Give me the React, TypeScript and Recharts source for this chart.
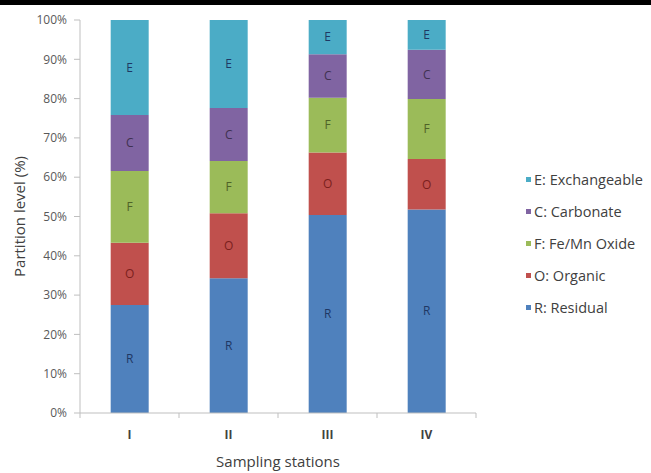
import {Bar, BarChart, LabelList, Legend, XAxis, YAxis} from 'recharts';

const stations = ['I', 'II', 'III', 'IV'];
const residual = [27.5, 34.3, 50.4, 51.8];
const organic = [15.8, 16.5, 15.9, 12.8];
const feMnOxide = [18.3, 13.3, 13.9, 15.3];
const carbonate = [14.2, 13.5, 11.1, 12.5];
const exchangeable = [24.2, 22.4, 8.7, 7.6];
const yTicks = [0, 10, 20, 30, 40, 50, 60, 70, 80, 90, 100];

const series = [
    {key: 'R', name: 'R: Residual', color: '#4f81bd', text: '#1f3864'},
    {key: 'O', name: 'O: Organic', color: '#c0504d', text: '#7b1f1d'},
    {key: 'F', name: 'F: Fe/Mn Oxide', color: '#9bbb59', text: '#4f6228'},
    {key: 'C', name: 'C: Carbonate', color: '#8064a2', text: '#3f3151'},
    {key: 'E', name: 'E: Exchangeable', color: '#4bacc6', text: '#1f3864'},
];

const data = stations.map((station, i) => ({
    station,
    R: residual[i],
    O: organic[i],
    F: feMnOxide[i],
    C: carbonate[i],
    E: exchangeable[i],
}));

const TICK_GAP = 17; // tickSize (6) + tickMargin (11)

// station label, plus Excel-style tick marks on the category edges
const StationTick = (props: any) => {
    const {x, y, payload} = props;
    const half = payload.offset || 0;
    const axisY = y - TICK_GAP;
    return (
        <g>
            <line x1={x + half} x2={x + half} y1={axisY} y2={axisY + 5} stroke="#bfbfbf"/>
            {payload.index === 0 && <line x1={x - half} x2={x - half} y1={axisY} y2={axisY + 5} stroke="#bfbfbf"/>}
            <text x={x} y={y} dy="0.71em" textAnchor="middle" fontSize={12} fontWeight="bold" fill="#404040">
                {payload.value}
            </text>
        </g>
    );
};

// legend drawn top to bottom in reverse stacking order, like Excel
const LegendBox = () => (
    <div>
        {[...series].reverse().map(s => (
            <div key={s.key} style={{display: 'flex', alignItems: 'center', height: 32, fontSize: 14.5, color: '#404040'}}>
                <span style={{width: 5, height: 5, background: s.color, marginRight: 3, display: 'inline-block'}}/>
                {s.name}
            </div>
        ))}
    </div>
);

const App = () => {
    return (
        <div style={{position: 'absolute', left: 0, top: 0, width: 651, height: 473, background: '#fff', fontFamily: '"Open Sans", sans-serif'}}>
            <div style={{position: 'absolute', left: 0, top: 0, width: 651, height: 5, background: '#000'}}/>
            <BarChart width={651} height={473} data={data} margin={{top: 20, right: 50, bottom: 0, left: 0}}
                      barCategoryGap="31%">
                <XAxis dataKey="station" height={60} tickLine={false} axisLine={{stroke: '#bfbfbf'}}
                       tickSize={6} tickMargin={11} tick={<StationTick/>}
                       label={{value: 'Sampling stations', position: 'insideBottom', offset: 6, fontSize: 15, fill: '#404040'}}/>
                <YAxis width={80} domain={[0, 100]} ticks={yTicks} tickFormatter={v => `${v}%`} interval={0}
                       axisLine={{stroke: '#bfbfbf'}} tickLine={{stroke: '#bfbfbf'}} tickSize={6} tickMargin={7}
                       tick={{fontSize: 12, fill: '#595959'}}
                       label={{value: 'Partition level (%)', angle: -90, position: 'insideLeft', offset: 20, fontSize: 15, fill: '#404040', style: {textAnchor: 'middle'}}}/>
                <Legend layout="vertical" verticalAlign="top" align="right" content={<LegendBox/>}
                        wrapperStyle={{left: 526, top: 163, width: 125}}/>
                {series.map(s => (
                    <Bar key={s.key} dataKey={s.key} name={s.name} stackId="a" fill={s.color} isAnimationActive={false}>
                        <LabelList dataKey={s.key} position="center" formatter={() => s.key} fill={s.text} fontSize={12}/>
                    </Bar>
                ))}
            </BarChart>
        </div>
    );
};

export default App;
